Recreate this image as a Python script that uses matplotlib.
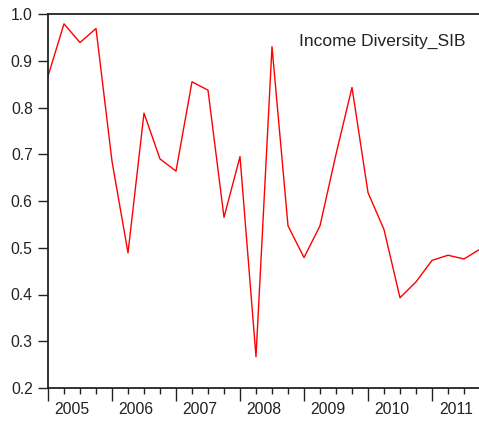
import matplotlib
matplotlib.use("Agg")
import matplotlib.pyplot as plt
from matplotlib.transforms import blended_transform_factory

years = ["2005", "2006", "2007", "2008", "2009", "2010", "2011"]
values = [0.867, 0.979, 0.939, 0.969,
          0.685, 0.489, 0.788, 0.690,
          0.664, 0.855, 0.837, 0.565,
          0.695, 0.267, 0.930, 0.547,
          0.479, 0.547, 0.700, 0.843,
          0.618, 0.539, 0.393, 0.427,
          0.473, 0.484, 0.476, 0.497]
y_ticks = [0.2, 0.3, 0.4, 0.5, 0.6, 0.7, 0.8, 0.9, 1.0]
title = "Income Diversity_SIB"

W, H = 479, 425
fig = plt.figure(figsize=(W / 100, H / 100), dpi=100)
ax = fig.add_axes([48 / W, (H - 388) / H, 432 / W, 374 / H])

x = list(range(len(values)))
ax.plot(x, values, color="#ff0000", lw=1.0)

ax.set_xlim(0, len(values) - 1)
ax.set_ylim(0.2, 1.0)
ax.set_yticks(y_ticks)
ax.set_yticklabels([f"{v:.1f}" for v in y_ticks])

ax.set_xticks(list(range(0, len(values), 4)))
ax.set_xticklabels([])
ax.set_xticks(x, minor=True)

txt = "#222222"
for s in ["left", "bottom", "top"]:
    ax.spines[s].set_color("#222222")
    ax.spines[s].set_linewidth(1.3)
ax.spines["right"].set_visible(False)

ax.tick_params(axis="y", direction="out", length=7, width=1.0, colors="#222222",
               labelsize=11.3, labelcolor=txt, pad=4)
ax.tick_params(axis="x", which="major", direction="out", length=9, width=1.0,
               colors="#222222")
ax.tick_params(axis="x", which="minor", direction="out", length=4.5, width=1.0,
               colors="#222222")
for lab in ax.get_yticklabels():
    lab.set_family(["Liberation Sans", "DejaVu Sans"])

tr = blended_transform_factory(ax.transData, ax.transAxes)
for i, yr in enumerate(years):
    ax.text(4 * i + 1.5, -21 / 374, yr, transform=tr, ha="center", va="center",
            fontsize=11.3, color=txt, family=["Liberation Sans", "DejaVu Sans"],
            clip_on=False)

fig.text(299 / W, 1 - 41 / H, title, ha="left", va="center", fontsize=12.5,
         color=txt, family=["Liberation Sans", "DejaVu Sans"])

fig.savefig("out.png", dpi=100)
